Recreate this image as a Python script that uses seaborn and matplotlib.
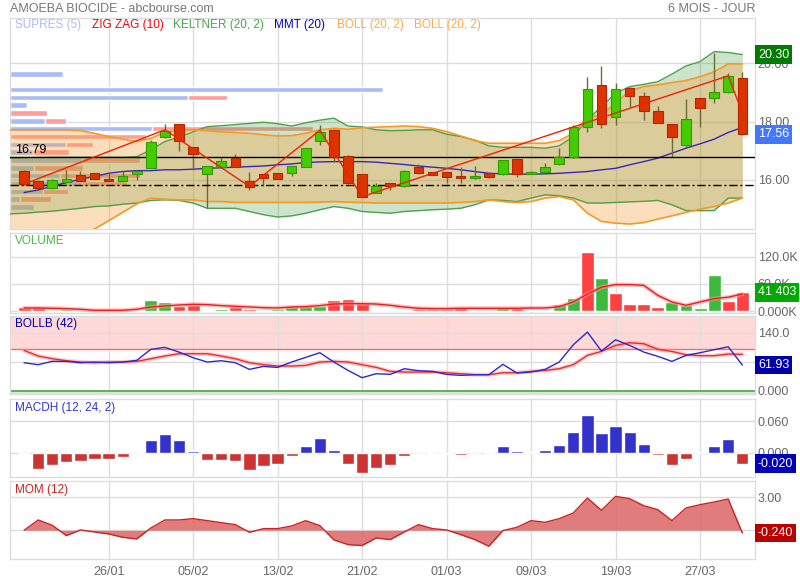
import numpy as np
import matplotlib
matplotlib.use("Agg")
import matplotlib.pyplot as plt
import seaborn as sns

sns.set_theme(style="white")
plt.rcParams["font.family"] = ["Liberation Sans", "DejaVu Sans"]

###########################
# Données
###########################

tick_pos = [6, 12, 18, 24, 30, 36, 42, 48]
tick_labels = ["26/01", "05/02", "13/02", "21/02", "01/03", "09/03", "19/03", "27/03"]

opens = [16.31, 15.97, 15.72, 15.94, 16.17, 16.23, 16.04, 15.98, 16.20, 16.42,
         17.47, 17.92, 17.13, 16.20, 16.46, 16.77, 15.98, 16.21, 16.24, 16.23,
         16.46, 17.35, 17.73, 16.82, 16.20, 15.57, 15.89, 15.78, 16.46, 16.26,
         16.26, 16.12, 16.06, 16.23, 16.20, 16.72, 16.21, 16.29, 16.54, 16.78,
         17.81, 19.26, 18.15, 19.14, 18.88, 18.37, 17.92, 17.20, 18.80, 18.80,
         19.00, 19.49]
highs = [16.34, 16.00, 16.02, 16.35, 16.31, 16.25, 16.23, 16.31, 16.35, 17.38,
         17.92, 17.93, 17.14, 16.48, 16.78, 16.88, 16.29, 16.22, 16.25, 16.48,
         17.09, 17.89, 17.75, 16.84, 16.21, 15.89, 15.90, 16.35, 16.55, 16.27,
         16.27, 16.44, 16.48, 16.24, 16.69, 16.73, 16.30, 16.58, 17.09, 17.89,
         19.54, 19.91, 19.32, 19.20, 19.03, 18.54, 17.93, 18.77, 18.81, 20.34,
         19.68, 19.71]
lows = [15.84, 15.72, 15.70, 15.92, 15.95, 16.02, 15.95, 15.96, 15.99, 16.40,
        17.45, 17.00, 16.35, 15.03, 16.44, 16.44, 15.64, 15.81, 16.03, 16.12,
        16.44, 17.20, 16.63, 15.87, 15.41, 15.55, 15.64, 15.76, 16.21, 16.16,
        15.89, 15.91, 16.04, 16.08, 16.18, 16.10, 16.19, 16.27, 16.52, 16.76,
        17.66, 17.77, 17.89, 18.50, 18.06, 17.95, 16.80, 17.09, 17.83, 18.65,
        18.99, 17.55]
closes = [15.86, 15.74, 16.00, 16.03, 15.97, 16.04, 15.97, 16.14, 16.31, 17.29,
          17.69, 17.35, 16.88, 16.48, 16.65, 16.46, 15.75, 16.08, 16.05, 16.48,
          17.09, 17.64, 16.78, 15.89, 15.43, 15.81, 15.78, 16.31, 16.23, 16.18,
          16.10, 16.06, 16.14, 16.10, 16.69, 16.20, 16.28, 16.45, 16.80, 17.81,
          19.11, 17.91, 19.11, 18.88, 18.37, 17.95, 17.49, 18.08, 18.48, 19.00,
          19.57, 17.56]

# volume en milliers, sens de la barre (g = hausse, r = baisse) et moyenne
volumes = [9.5, 8.8, 3.0, 4.4, 3.0, 2.2, 2.2, 3.7, 3.0, 25.0,
           20.5, 12.5, 14.7, 3.7, 5.9, 9.5, 5.9, 3.0, 5.1, 11.7,
           11.7, 11.7, 25.6, 27.0, 18.3, 3.7, 2.2, 3.7, 5.1, 5.1,
           5.1, 8.8, 3.7, 3.0, 8.8, 6.6, 3.0, 3.0, 16.0, 29.0,
           130.0, 73.0, 40.0, 16.0, 15.4, 8.8, 20.5, 13.2, 7.3, 80.6,
           23.4, 41.403]
vol_dir = "rrggrrrggggrrggrrrggggrrrgggrrrrgrgrggggrgrrrrggggr"
vol_ma = [7.3, 7.3, 6.6, 5.9, 4.4, 2.2, 2.2, 2.2, 4.4, 9.5,
          11.7, 13.9, 15.4, 14.7, 12.5, 11.0, 9.5, 8.0, 7.3, 9.5,
          10.3, 12.5, 16.0, 16.8, 16.8, 16.0, 13.2, 9.5, 6.6, 5.9,
          5.9, 6.6, 6.6, 6.6, 6.6, 6.6, 7.3, 7.3, 10.3, 20.5,
          38.0, 53.0, 58.6, 58.6, 57.0, 35.0, 20.5, 13.2, 20.5, 27.8,
          31.0, 38.0]

# moyenne mobile 20
mmt20 = [15.57, 15.66, 15.78, 15.91, 16.03, 16.12, 16.23, 16.29, 16.32, 16.32,
         16.35, 16.35, 16.37, 16.40, 16.42, 16.44, 16.46, 16.48, 16.52, 16.55,
         16.60, 16.62, 16.63, 16.63, 16.63, 16.61, 16.57, 16.53, 16.48, 16.44,
         16.40, 16.35, 16.29, 16.23, 16.21, 16.20, 16.20, 16.21, 16.23, 16.26,
         16.29, 16.35, 16.40, 16.52, 16.63, 16.75, 16.92, 17.09, 17.24, 17.40,
         17.63, 17.80]

# bandes (la première valeur est la séance précédant la fenêtre)
boll_up = [17.72, 17.72, 17.72, 17.72, 17.72, 17.69, 17.60, 17.49, 17.40, 17.32,
           17.43, 17.63, 17.69, 17.72, 17.69, 17.65, 17.63, 17.60, 17.55, 17.51,
           17.52, 17.60, 17.72, 17.77, 17.74, 17.79, 17.81, 17.83, 17.85, 17.83,
           17.77, 17.66, 17.51, 17.35, 17.26, 17.26, 17.26, 17.26, 17.26, 17.35,
           17.60, 18.15, 18.22, 18.63, 19.06, 19.20, 19.26, 19.34, 19.41, 19.54,
           19.71, 19.98, 19.98]
boll_low = [13.00, 13.10, 13.30, 13.50, 13.75, 14.04, 14.32, 14.60, 14.89, 15.18,
            15.38, 15.34, 15.32, 15.32, 15.26, 15.26, 15.23, 15.23, 15.23, 15.23,
            15.23, 15.23, 15.24, 15.26, 15.24, 15.23, 15.21, 15.21, 15.21, 15.21,
            15.21, 15.21, 15.23, 15.26, 15.32, 15.26, 15.23, 15.26, 15.38, 15.43,
            15.32, 14.86, 14.58, 14.52, 14.49, 14.54, 14.66, 14.77, 14.89, 15.00,
            15.09, 15.21, 15.38]
kelt_up = [16.75, 16.76, 16.77, 16.78, 16.78, 16.78, 16.78, 16.78, 16.78, 16.80,
           17.03, 17.32, 17.47, 17.65, 17.83, 17.86, 17.90, 17.94, 17.98, 17.93,
           17.85, 17.96, 18.05, 18.12, 17.85, 17.82, 17.72, 17.69, 17.70, 17.72,
           17.72, 17.57, 17.49, 17.37, 17.17, 17.12, 17.12, 17.12, 17.09, 17.17,
           17.49, 18.06, 18.52, 18.97, 19.20, 19.28, 19.37, 19.63, 19.91, 20.06,
           20.40, 20.37, 20.30]
kelt_low = [14.84, 14.86, 14.90, 14.93, 14.98, 15.03, 15.09, 15.11, 15.17, 15.21,
            15.30, 15.32, 15.30, 15.21, 15.03, 15.03, 15.03, 14.92, 14.81, 14.73,
            14.77, 14.86, 14.98, 15.09, 15.03, 14.92, 14.89, 14.86, 14.92, 14.95,
            14.98, 15.00, 15.03, 15.15, 15.32, 15.30, 15.26, 15.38, 15.49, 15.46,
            15.38, 15.21, 15.21, 15.23, 15.25, 15.27, 15.30, 15.15, 14.95, 14.95,
            14.95, 15.38, 15.38]

# zig zag (10)
zz_idx = [0, 10, 16, 21, 24, 50, 51]
zz_val = [15.86, 17.72, 15.78, 17.70, 15.43, 19.57, 18.30]

# supports / résistances : profil de volume par niveau de prix
sr_levels = [19.64, 19.37, 19.10, 18.83, 18.57, 18.30, 18.03, 17.76, 17.49,
             17.22, 16.95, 16.68, 16.41, 16.15, 15.88, 15.61, 15.34, 15.07]
sr_buy = [53, 0, 373, 178, 17, 0, 35, 142, 0, 56, 23, 72, 24, 50, 72, 33, 10, 24]
sr_sell = [0, 0, 0, 39, 0, 37, 21, 161, 136, 27, 36, 58, 49, 80, 45, 25, 31, 0]
sr_full = 745
sr_line = 16.79
sr_dash = 15.82

bollb = [67.6, 62.8, 70.8, 70.8, 67.6, 69.2, 67.6, 69.2, 73.2, 99.8,
         104.6, 93.3, 79.6, 69.2, 72.4, 67.6, 51.5, 58.7, 56.3, 69.2,
         80.5, 91.7, 69.2, 49.0, 31.4, 41.0, 39.4, 53.0, 48.3, 46.7,
         39.4, 37.0, 38.6, 38.6, 63.6, 42.6, 45.0, 51.5, 69.2, 111.0,
         141.6, 95.7, 123.0, 109.4, 93.3, 82.9, 70.8, 85.3, 91.7, 99.0,
         106.0, 61.93]
bollb_ma = [97.3, 83.7, 77.2, 72.4, 69.2, 67.6, 69.2, 69.2, 70.8, 77.2,
            83.7, 89.3, 89.3, 89.3, 83.7, 77.2, 67.6, 62.8, 59.5, 59.5,
            61.1, 69.2, 70.8, 69.2, 62.8, 56.3, 46.7, 45.0, 45.0, 45.0,
            43.4, 41.0, 38.6, 38.6, 43.4, 43.4, 46.7, 49.0, 53.1, 62.8,
            85.3, 94.9, 109.4, 115.8, 113.4, 99.8, 94.9, 86.9, 84.5, 84.5,
            88.5, 87.7]

macdh = [0.0, -0.030, -0.022, -0.0164, -0.0145, -0.0107, -0.0114, -0.0069, -0.0019, 0.0246,
         0.036, 0.0246, 0.0044, -0.0126, -0.0126, -0.0145, -0.0316, -0.024, -0.0202, -0.005,
         0.0133, 0.0284, 0.0057, -0.0202, -0.0379, -0.0284, -0.022, -0.005, 0.0, 0.0,
         -0.0019, -0.0032, 0.0, 0.0, 0.0133, 0.0044, 0.0019, 0.0057, 0.0152, 0.0398,
         0.0726, 0.0385, 0.0511, 0.0398, 0.0177, -0.0032, -0.022, -0.0114, 0.0019, 0.0133,
         0.0265, -0.020]

mom = [0.0, 0.93, 0.45, -0.48, 0.03, -0.15, -0.33, -0.63, -0.78, 0.21,
       0.93, 0.93, 1.05, 0.87, 0.69, 0.51, -0.18, 0.15, 0.15, 0.39,
       0.87, 0.42, -0.87, -1.29, -1.38, -0.69, -0.84, -0.15, 0.51, 0.15,
       0.03, -0.39, -0.84, -1.44, -0.03, 0.27, 0.87, 0.72, 1.05, 1.56,
       2.91, 1.80, 3.06, 2.85, 2.22, 1.86, 0.87, 2.01, 2.31, 2.55,
       2.82, -0.24]

###########################
# Mise en page
###########################

W, H = 800, 580
GRID = "#dddddd"
TXT = "#666666"
FS = 8.5
XLIM = (-1.0, 51.9)

fig = plt.figure(figsize=(W / 100, H / 100), dpi=100)


def panel(top, bottom):
    return fig.add_axes([10 / W, 1 - bottom / H, 745 / W, (bottom - top) / H])


def style(ax, yticks, ylabels, ylim):
    ax.set_xlim(*XLIM)
    ax.set_ylim(*ylim)
    ax.set_xticks(tick_pos)
    ax.set_xticklabels([])
    ax.set_yticks(yticks)
    ax.set_yticklabels(ylabels)
    ax.yaxis.tick_right()
    ax.tick_params(axis="both", length=0, labelsize=FS + 0.5, labelcolor=TXT, pad=2)
    ax.grid(True, color=GRID, linewidth=1)
    ax.set_axisbelow(True)
    for s in ax.spines.values():
        s.set_color(GRID)
        s.set_linewidth(1)


def title(ax, text, color, dx=5):
    ax.annotate(text, xy=(0, 1), xycoords="axes fraction", xytext=(dx, -9),
                textcoords="offset pixels", va="center", ha="left",
                fontsize=FS, color=color, zorder=10)


def last_box(ax, value, text, color):
    ax.text(1.004, value, text, transform=ax.get_yaxis_transform(), ha="left",
            va="center", fontsize=FS + 0.5, color="white", zorder=20, clip_on=False,
            bbox=dict(boxstyle="square,pad=0.25", fc=color, ec="none"))


axp = panel(17.5, 229)
axv = panel(232.5, 313)
axb = panel(315.5, 394)
axm = panel(398.5, 477)
axo = panel(480.5, 559)

x = np.arange(len(closes))
xb = np.arange(-1, len(closes))

###########################
# Cours
###########################

style(axp, [16, 18, 20], ["16.00", "18.00", "20.00"], (14.32, 21.57))

# profil SUPRES
k = (XLIM[1] - XLIM[0]) / sr_full
buy = np.array(sr_buy) * k
sell = np.array(sr_sell) * k
axp.barh(sr_levels, buy, left=XLIM[0], height=0.195, color="#a9bcf5", zorder=1)
axp.barh(sr_levels, sell, left=XLIM[0] + buy, height=0.195, color="#ff9c9c", zorder=1)

# Keltner dessous, Bollinger par-dessus (teinte kaki au recouvrement)
axp.fill_between(xb, kelt_low, kelt_up, color="#3a9a3a", alpha=0.26, linewidth=0, zorder=2)
axp.fill_between(xb, boll_low, boll_up, color="#f7a040", alpha=0.35, linewidth=0, zorder=2.1)
for band in (kelt_up, kelt_low):
    sns.lineplot(x=xb, y=band, ax=axp, color="#4f9f4f", linewidth=1, zorder=3)
for band in (boll_up, boll_low):
    sns.lineplot(x=xb, y=band, ax=axp, color="#f59a23", linewidth=1.2, zorder=3.1)
sns.lineplot(x=x, y=mmt20, ax=axp, color="#3a26b8", linewidth=1, zorder=3.2)

axp.axhline(sr_line, color="black", linewidth=1, zorder=4.5)
axp.axhline(sr_dash, color="black", linewidth=1, dashes=(6, 2, 1.5, 2), zorder=4.5)
axp.annotate(f"{sr_line:.2f}", xy=(0, sr_line), xycoords=("axes fraction", "data"),
             xytext=(5, 1), textcoords="offset pixels", va="bottom", fontsize=FS + 0.5,
             color="black", zorder=10)

# chandeliers
o, h, l, c = map(np.array, (opens, highs, lows, closes))
up = c >= o
lo = np.minimum(o, c)
hb = np.maximum(np.abs(c - o), 0.03)
axp.vlines(x, l, h, color="#6b6b3a", linewidth=1, zorder=4)
axp.bar(x[up], hb[up], bottom=lo[up], width=0.68, color="#44cc00",
        edgecolor="#339900", linewidth=0.8, zorder=5)
axp.bar(x[~up], hb[~up], bottom=lo[~up], width=0.68, color="#dd3300",
        edgecolor="#b02800", linewidth=0.8, zorder=5)

sns.lineplot(x=zz_idx, y=zz_val, ax=axp, color="#ee2200", linewidth=1, zorder=6)

legend = [("SUPRES (5)", "#aabbff", 5), ("ZIG ZAG (10)", "#ff0000", 82),
          ("KELTNER (20, 2)", "#44aa44", 163), ("MMT (20)", "#0000dd", 264),
          ("BOLL (20, 2)", "#ffaa44", 327), ("BOLL (20, 2)", "#ffaa44", 404)]
for text, color, dx in legend:
    axp.annotate(text, xy=(0, 1), xycoords="axes fraction", xytext=(dx, -7.5),
                 textcoords="offset pixels", va="center", ha="left",
                 fontsize=FS, color=color, zorder=10)

last_box(axp, kelt_up[-1], f"{kelt_up[-1]:.2f}", "#007a00")
last_box(axp, closes[-1], f"{closes[-1]:.2f}", "#4477ff")

###########################
# Volume
###########################

style(axv, [0, 60, 120], ["0.000K", "60.0K", "120.0K"], (-3.7, 173))
vcol = ["#3dba3d" if d == "g" else "#ff4040" for d in vol_dir]
axv.bar(x, volumes, width=0.92, color=vcol, zorder=2)
sns.lineplot(x=x, y=vol_ma, ax=axv, color="#ff9a9a", linewidth=3, alpha=0.6, zorder=3)
sns.lineplot(x=x, y=vol_ma, ax=axv, color="#ee1c1c", linewidth=1, zorder=3.1)
title(axv, "VOLUME", "#44bb44")
last_box(axv, volumes[-1], f"{round(volumes[-1] * 1000):,}".replace(",", " "), "#00aa00")

###########################
# BOLLB
###########################

style(axb, [0, 70, 140], ["0.000", "", "140.0"], (-8, 181.6))
axb.axhspan(100, 200, color="#ffd8d8", zorder=0.5, linewidth=0)
axb.axhspan(-20, 0, color="#d6ebd6", zorder=0.5, linewidth=0)
axb.axhline(100, color="#ff6a6a", linewidth=1, zorder=1)
axb.axhline(0, color="#55aa55", linewidth=1.3, zorder=1)
sns.lineplot(x=x, y=bollb_ma, ax=axb, color="#ff9a9a", linewidth=3, alpha=0.5, zorder=2)
sns.lineplot(x=x, y=bollb_ma, ax=axb, color="#ee2a2a", linewidth=1, zorder=2.1)
sns.lineplot(x=x, y=bollb, ax=axb, color="#2a2acc", linewidth=1, zorder=2.2)
title(axb, "BOLLB (42)", "#0000aa")
last_box(axb, bollb[-1], f"{bollb[-1]:.2f}", "#0000aa")

###########################
# MACDH
###########################

style(axm, [0, 0.06], ["0.000", "0.060"], (-0.0455, 0.1032))
mh = np.array(macdh)
axm.bar(x, mh, width=0.87, color=np.where(mh >= 0, "#3333cc", "#cc3333"), zorder=2)
title(axm, "MACDH (12, 24, 2)", "#3333cc")
last_box(axm, macdh[-1], f"{macdh[-1]:.3f}", "#0000bb")

###########################
# MOM
###########################

style(axo, [0, 3], ["", "3.00"], (-2.59, 4.49))
axo.fill_between(x, mom, 0, color="#dd6e6e", alpha=0.9, linewidth=0, zorder=2)
sns.lineplot(x=x, y=mom, ax=axo, color="#cc2222", linewidth=1, zorder=3)
title(axo, "MOM (12)", "#cc2222")
last_box(axo, mom[-1], f"{mom[-1]:.3f}", "#bb0000")
axo.set_xticklabels(tick_labels)
axo.tick_params(axis="x", pad=5)

fig.text(10 / W, 1 - 9 / H, "AMOEBA BIOCIDE - abcbourse.com", fontsize=FS + 0.5,
         color="#777777", va="center", ha="left")
fig.text(755 / W, 1 - 9 / H, "6 MOIS - JOUR", fontsize=FS + 0.5, color="#777777",
         va="center", ha="right")

fig.savefig("out.png", dpi=100)
